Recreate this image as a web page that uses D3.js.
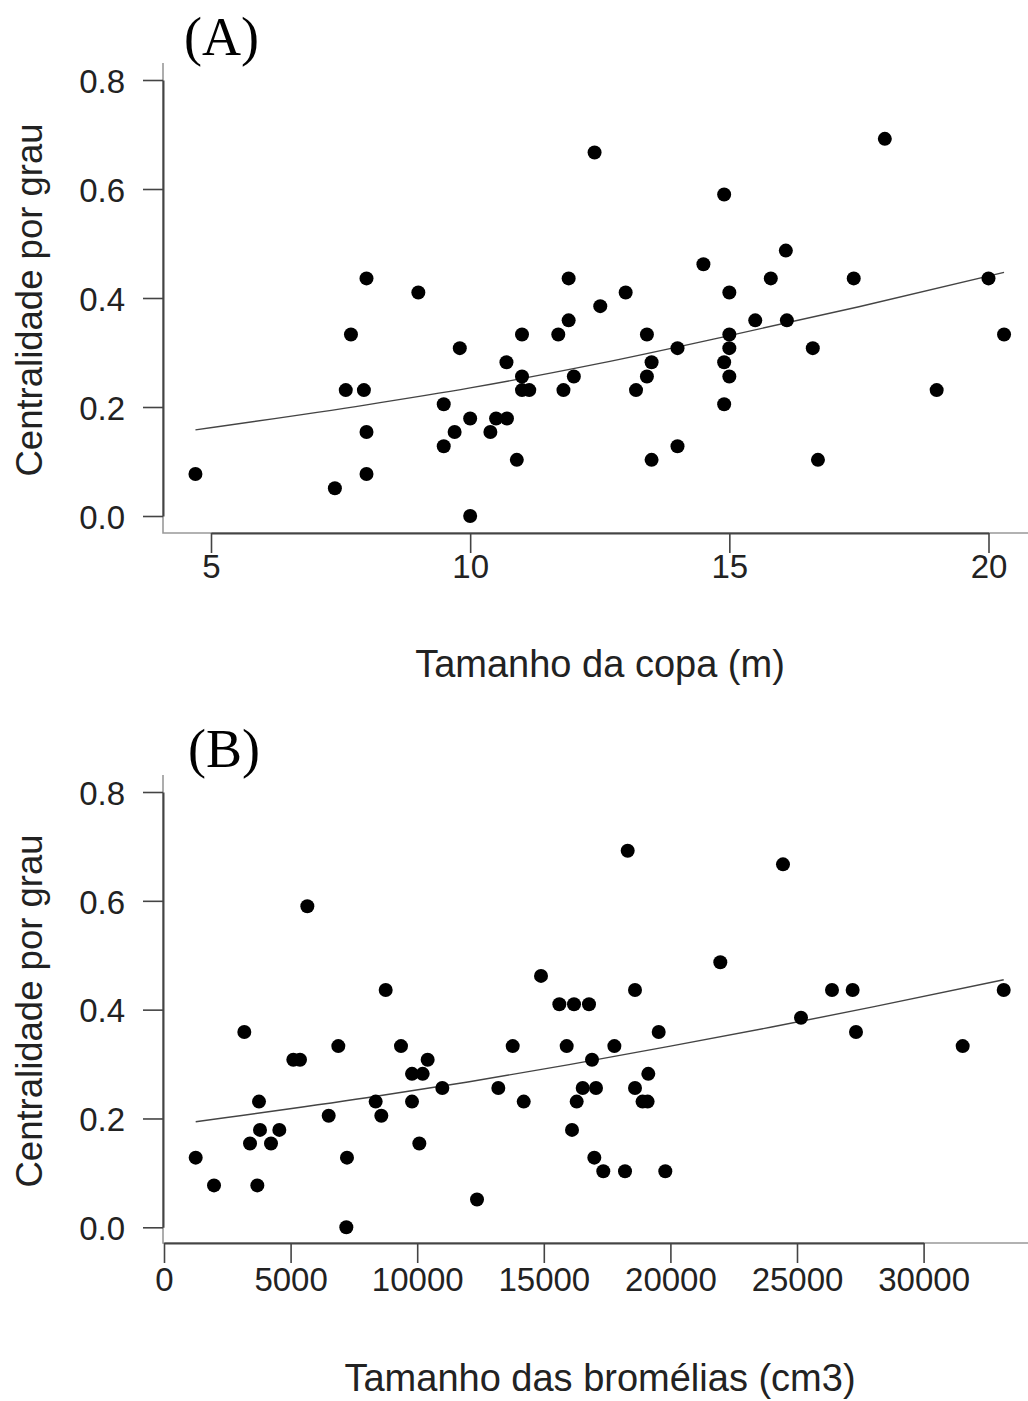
<!DOCTYPE html>
<html>
<head>
<meta charset="utf-8">
<script src="https://cdn.jsdelivr.net/npm/d3@7"></script>
<style>
  body { margin: 0; background: #fff; }
  svg { display: block; }
</style>
</head>
<body>
<div id="chart"></div>
<script>
// Panel A: crown size (m) vs degree centrality
const copaSize = [4.70, 7.39, 8.00, 8.00, 7.60, 7.95, 7.70, 8.00, 9.00, 9.80, 9.49, 9.49, 9.70, 10.00, 10.00,
  10.39, 10.50, 10.71, 10.70, 10.90, 11.00, 11.00, 11.00, 11.14, 11.70, 11.80, 11.90, 11.90, 12.00, 12.40,
  12.51, 13.00, 13.41, 13.50, 13.41, 13.20, 13.50, 14.00, 14.00, 14.50, 14.90, 15.00, 15.00, 15.00, 14.90,
  15.00, 14.90, 15.50, 15.80, 16.09, 16.11, 16.61, 16.71, 17.40, 18.00, 19.00, 20.00, 20.30];
const centralityA = [0.077, 0.051, 0.077, 0.154, 0.231, 0.231, 0.333, 0.436, 0.410, 0.308, 0.205, 0.128, 0.154, 0.179, 0.000,
  0.154, 0.179, 0.179, 0.282, 0.103, 0.333, 0.256, 0.231, 0.231, 0.333, 0.231, 0.359, 0.436, 0.256, 0.667,
  0.385, 0.410, 0.333, 0.282, 0.256, 0.231, 0.103, 0.308, 0.128, 0.462, 0.590, 0.410, 0.333, 0.308, 0.282,
  0.256, 0.205, 0.359, 0.436, 0.487, 0.359, 0.308, 0.103, 0.436, 0.692, 0.231, 0.436, 0.333];

// Panel B: bromeliad size (cm3) vs degree centrality
const bromeliaSize = [1252, 1975, 3172, 3686, 3397, 3752, 3791, 4226, 4555, 5108, 5371, 5661, 6504, 6885, 7227,
  7201, 8360, 8583, 8755, 9360, 9795, 10216, 9795, 10413, 10084, 10993, 12362, 13204, 13772, 14207,
  14890, 15614, 16193, 16785, 15904, 16904, 16536, 17062, 16299, 16114, 16995, 17350, 18313, 24447, 21971,
  18602, 19538, 17787, 19127, 18602, 18900, 19100, 18207, 19799, 25158, 26382, 27198, 27330, 31543, 33164];
const centralityB = [0.128, 0.077, 0.359, 0.077, 0.154, 0.231, 0.179, 0.154, 0.179, 0.308, 0.308, 0.590, 0.205, 0.333, 0.128,
  0.000, 0.231, 0.205, 0.436, 0.333, 0.282, 0.282, 0.231, 0.308, 0.154, 0.256, 0.051, 0.256, 0.333, 0.231,
  0.462, 0.410, 0.410, 0.410, 0.333, 0.308, 0.256, 0.256, 0.231, 0.179, 0.128, 0.103, 0.692, 0.667, 0.487,
  0.436, 0.359, 0.333, 0.282, 0.256, 0.231, 0.231, 0.103, 0.103, 0.385, 0.436, 0.436, 0.359, 0.333, 0.436];

// fitted curves
const fitAx = [4.7, 8, 10, 12.5, 15, 17.5, 20.3];
const fitAy = [0.158, 0.204, 0.235, 0.280, 0.331, 0.384, 0.447];
const fitBx = [1252, 8000, 12000, 16000, 20000, 24000, 28000, 33164];
const fitBy = [0.194, 0.238, 0.267, 0.299, 0.333, 0.368, 0.405, 0.455];

const ticksA = [5, 10, 15, 20];
const ticksB = [0, 5000, 10000, 15000, 20000, 25000, 30000];
const ticksY = [0, 0.2, 0.4, 0.6, 0.8];

const W = 1028, H = 1401;
const svg = d3.select("#chart").append("svg").attr("width", W).attr("height", H);
svg.append("rect").attr("width", W).attr("height", H).attr("fill", "#fff");

const drawPanel = (opt) => {
  const g = svg.append("g");
  const x = d3.scaleLinear().domain(opt.xDomain).range(opt.xRange);
  const y = d3.scaleLinear().domain([0, 0.8]).range(opt.yRange);

  // L-shaped box
  g.append("path")
    .attr("d", `M${opt.left},${opt.top}V${opt.bottom}H${W}`)
    .attr("fill", "none").attr("stroke", "#999").attr("stroke-width", 1.6);

  const xAxis = g.append("g")
    .attr("transform", `translate(0,${opt.bottom})`)
    .call(d3.axisBottom(x).tickValues(opt.ticks).tickSize(20).tickSizeOuter(0).tickFormat(d3.format("d")));
  xAxis.selectAll("text").attr("y", opt.tickLabelY).attr("dy", null);

  const yAxis = g.append("g")
    .attr("transform", `translate(${opt.left},0)`)
    .call(d3.axisLeft(y).tickValues(ticksY).tickSize(20).tickSizeOuter(0).tickPadding(18).tickFormat(d3.format(".1f")));
  yAxis.selectAll("text").attr("dy", "0.37em");

  [xAxis, yAxis].forEach(a => {
    a.select(".domain").attr("stroke", "#444").attr("stroke-width", 2);
    a.selectAll(".tick line").attr("stroke", "#444").attr("stroke-width", 1.6);
    a.selectAll("text").attr("fill", "#222")
      .style("font-family", "'Liberation Sans', Arial, sans-serif").style("font-size", "33px");
  });

  const line = d3.line().x(d => x(d[0])).y(d => y(d[1])).curve(d3.curveMonotoneX);
  g.append("path")
    .datum(d3.zip(opt.fitX, opt.fitY))
    .attr("d", line)
    .attr("fill", "none").attr("stroke", "#444").attr("stroke-width", 1.4);

  g.selectAll("circle.pt")
    .data(d3.zip(opt.xs, opt.ys))
    .enter().append("circle")
    .attr("class", "pt")
    .attr("cx", d => x(d[0])).attr("cy", d => y(d[1]))
    .attr("r", 7).attr("fill", "#000");

  g.append("text")
    .attr("x", 600).attr("y", opt.titleY)
    .attr("text-anchor", "middle").attr("fill", "#222")
    .style("font-family", "'Liberation Sans', Arial, sans-serif").style("font-size", "38px")
    .text(opt.xTitle);

  g.append("text")
    .attr("transform", `translate(42,${(opt.top + opt.bottom) / 2 + 2}) rotate(-90)`)
    .attr("text-anchor", "middle").attr("fill", "#222")
    .style("font-family", "'Liberation Sans', Arial, sans-serif").style("font-size", "36.5px")
    .text("Centralidade por grau");

  g.append("text")
    .attr("x", opt.labelX).attr("y", opt.top - 8)
    .attr("fill", "#000")
    .style("font-family", "'Liberation Serif', 'Times New Roman', serif").style("font-size", "54px")
    .text(opt.label);
};

drawPanel({
  xs: copaSize, ys: centralityA, fitX: fitAx, fitY: fitAy,
  xDomain: [5, 20], xRange: [211, 988.5], yRange: [516, 80],
  ticks: ticksA, left: 163, top: 63, bottom: 533,
  tickLabelY: 45, titleY: 677, xTitle: "Tamanho da copa (m)", label: "(A)", labelX: 184
});

drawPanel({
  xs: bromeliaSize, ys: centralityB, fitX: fitBx, fitY: fitBy,
  xDomain: [0, 30000], xRange: [164, 923.6], yRange: [1227.3, 792],
  ticks: ticksB, left: 163, top: 775, bottom: 1243,
  tickLabelY: 48, titleY: 1391, xTitle: "Tamanho das bromélias (cm3)", label: "(B)", labelX: 188
});
</script>
</body>
</html>
